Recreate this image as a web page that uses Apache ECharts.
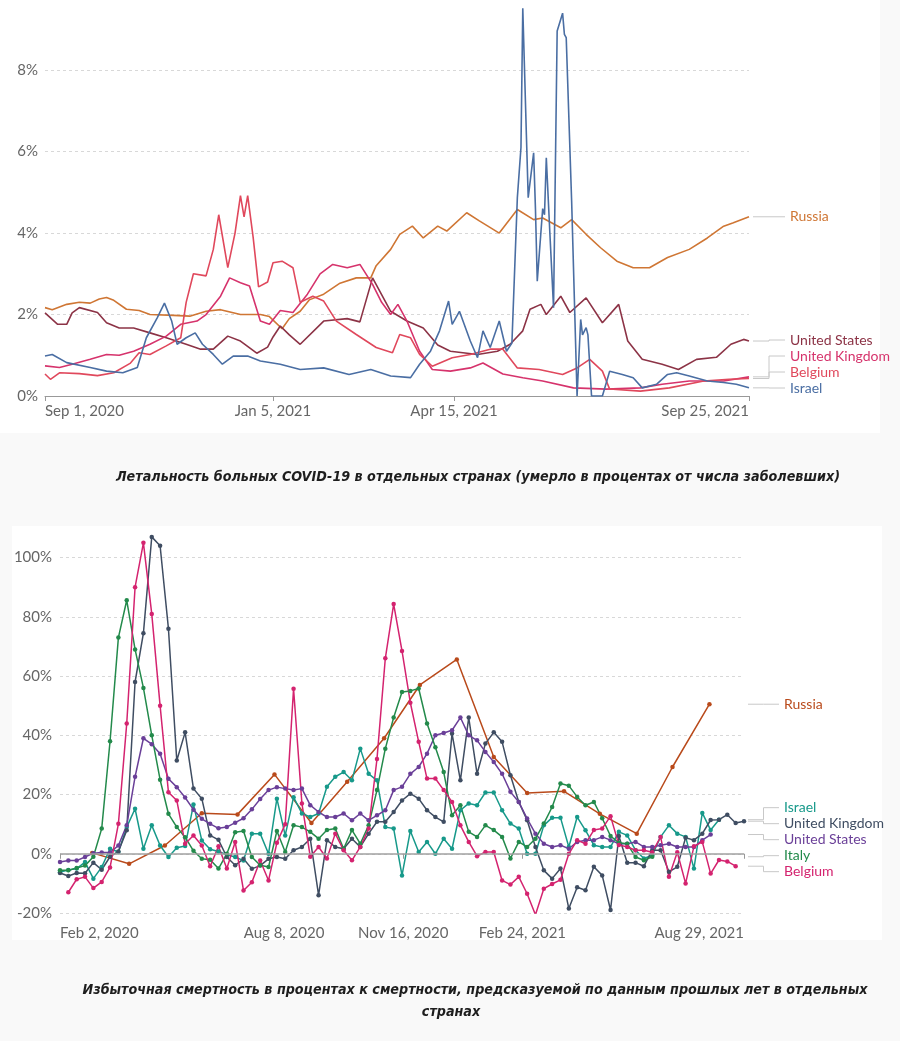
<!DOCTYPE html>
<html><head><meta charset="utf-8">
<script src="https://cdn.jsdelivr.net/npm/echarts@6/dist/echarts.min.js"></script>
<style>
html,body{margin:0;padding:0;background:#f9f9f9;width:900px;height:1041px;overflow:hidden;}
#p1{position:absolute;left:0;top:0;width:880px;height:433px;background:#fff;}
#p2{position:absolute;left:12px;top:526px;width:870px;height:414px;background:#fff;}
#chart{position:absolute;left:0;top:0;width:900px;height:1041px;}
</style></head><body>
<div id="p1"></div><div id="p2"></div><div id="chart"></div>
<script>
// ---------- Top chart: case fatality rate (%) ----------
const topTicks = ['2020-09-01','2021-01-05','2021-04-15','2021-09-25'];
const cfrRussia = [['2020-09-01',2.17],['2020-09-05',2.12],['2020-09-13',2.25],['2020-09-20',2.3],['2020-09-26',2.28],['2020-10-01',2.38],['2020-10-05',2.42],['2020-10-09',2.35],['2020-10-16',2.13],['2020-10-23',2.1],['2020-10-29',2.0],['2020-11-11',1.98],['2020-11-20',1.96],['2020-11-29',2.08],['2020-12-07',2.12],['2020-12-18',2.0],['2020-12-29',2.0],['2021-01-03',1.95],['2021-01-10',1.65],['2021-01-14',1.9],['2021-01-20',2.08],['2021-01-25',2.36],['2021-02-02',2.5],['2021-02-11',2.77],['2021-02-20',2.9],['2021-02-28',2.9],['2021-03-03',3.2],['2021-03-11',3.6],['2021-03-16',3.97],['2021-03-23',4.17],['2021-03-29',3.88],['2021-04-06',4.17],['2021-04-11',4.05],['2021-04-22',4.5],['2021-04-29',4.3],['2021-05-10',4.0],['2021-05-20',4.58],['2021-05-29',4.33],['2021-06-03',4.37],['2021-06-13',4.13],['2021-06-19',4.33],['2021-06-27',3.97],['2021-07-05',3.64],['2021-07-14',3.31],['2021-07-23',3.15],['2021-08-01',3.15],['2021-08-11',3.4],['2021-08-23',3.6],['2021-09-02',3.88],['2021-09-11',4.17],['2021-09-16',4.25],['2021-09-25',4.4]];
const cfrUS = [['2020-09-01',2.04],['2020-09-08',1.76],['2020-09-13',1.76],['2020-09-16',2.04],['2020-09-20',2.17],['2020-09-30',2.05],['2020-10-05',1.8],['2020-10-12',1.67],['2020-10-20',1.67],['2020-10-29',1.55],['2020-11-07',1.43],['2020-11-18',1.27],['2020-11-26',1.15],['2020-12-03',1.15],['2020-12-11',1.47],['2020-12-18',1.35],['2020-12-27',1.05],['2021-01-02',1.2],['2021-01-05',1.45],['2021-01-09',1.72],['2021-01-14',1.5],['2021-01-20',1.27],['2021-02-02',1.84],['2021-02-15',1.9],['2021-02-22',1.82],['2021-03-01',2.9],['2021-03-11',2.08],['2021-03-20',1.84],['2021-03-29',1.67],['2021-04-06',1.25],['2021-04-13',1.1],['2021-04-28',1.02],['2021-05-09',1.1],['2021-05-16',1.27],['2021-05-23',1.6],['2021-05-27',2.13],['2021-06-02',2.25],['2021-06-05',2.0],['2021-06-13',2.45],['2021-06-18',2.05],['2021-06-27',2.41],['2021-07-06',1.8],['2021-07-15',2.25],['2021-07-20',1.35],['2021-07-28',0.9],['2021-08-08',0.78],['2021-08-17',0.65],['2021-08-27',0.9],['2021-09-07',0.95],['2021-09-15',1.27],['2021-09-22',1.39],['2021-09-25',1.35]];
const cfrUK = [['2020-09-01',0.74],['2020-09-09',0.7],['2020-09-16',0.78],['2020-09-26',0.9],['2020-10-05',1.02],['2020-10-12',1.0],['2020-10-20',1.1],['2020-10-29',1.27],['2020-11-07',1.47],['2020-11-15',1.76],['2020-11-24',1.84],['2020-11-29',2.0],['2020-12-07',2.45],['2020-12-12',2.9],['2020-12-18',2.78],['2020-12-23',2.7],['2020-12-29',1.84],['2021-01-03',1.76],['2021-01-09',2.1],['2021-01-16',2.05],['2021-01-24',2.5],['2021-01-31',3.0],['2021-02-07',3.23],['2021-02-15',3.15],['2021-02-22',3.23],['2021-03-01',2.74],['2021-03-06',2.3],['2021-03-11',2.0],['2021-03-15',2.25],['2021-03-20',1.84],['2021-03-27',1.1],['2021-04-03',0.65],['2021-04-13',0.61],['2021-04-24',0.69],['2021-05-01',0.81],['2021-05-12',0.54],['2021-05-23',0.45],['2021-06-03',0.37],['2021-06-20',0.2],['2021-07-08',0.17],['2021-07-27',0.2],['2021-08-08',0.29],['2021-08-23',0.37],['2021-09-11',0.37],['2021-09-25',0.47]];
const cfrBelgium = [['2020-09-01',0.54],['2020-09-04',0.41],['2020-09-09',0.57],['2020-09-20',0.55],['2020-09-30',0.5],['2020-10-09',0.57],['2020-10-18',0.8],['2020-10-23',1.06],['2020-10-29',1.02],['2020-11-07',1.23],['2020-11-15',1.43],['2020-11-18',2.3],['2020-11-22',3.0],['2020-11-29',2.95],['2020-12-03',3.6],['2020-12-06',4.45],['2020-12-11',3.15],['2020-12-15',4.0],['2020-12-18',4.92],['2020-12-20',4.4],['2020-12-22',4.92],['2020-12-25',3.9],['2020-12-28',2.68],['2021-01-02',2.8],['2021-01-05',3.27],['2021-01-10',3.31],['2021-01-16',3.15],['2021-01-20',2.3],['2021-01-27',2.45],['2021-02-02',2.33],['2021-02-09',1.84],['2021-02-20',1.51],['2021-03-03',1.19],['2021-03-12',1.06],['2021-03-16',1.51],['2021-03-22',1.43],['2021-03-27',1.02],['2021-04-03',0.73],['2021-04-14',0.94],['2021-04-24',1.02],['2021-05-05',1.15],['2021-05-12',1.15],['2021-05-20',0.69],['2021-06-01',0.65],['2021-06-14',0.53],['2021-06-22',0.69],['2021-06-29',0.9],['2021-07-06',0.61],['2021-07-10',0.17],['2021-07-27',0.12],['2021-08-12',0.2],['2021-08-31',0.37],['2021-09-14',0.41],['2021-09-25',0.43]];
const cfrIsrael = [['2020-09-01',0.98],['2020-09-05',1.02],['2020-09-13',0.82],['2020-09-26',0.7],['2020-10-05',0.61],['2020-10-14',0.57],['2020-10-22',0.7],['2020-10-27',1.43],['2020-11-02',1.92],['2020-11-06',2.28],['2020-11-10',1.84],['2020-11-13',1.27],['2020-11-18',1.43],['2020-11-23',1.55],['2020-11-27',1.27],['2020-12-03',1.02],['2020-12-08',0.78],['2020-12-14',0.98],['2020-12-22',0.98],['2020-12-29',0.86],['2021-01-09',0.78],['2021-01-20',0.65],['2021-02-02',0.69],['2021-02-16',0.53],['2021-02-28',0.65],['2021-03-11',0.49],['2021-03-22',0.45],['2021-03-27',0.78],['2021-04-02',1.1],['2021-04-07',1.6],['2021-04-12',2.33],['2021-04-14',1.76],['2021-04-18',2.08],['2021-04-24',1.35],['2021-04-28',0.94],['2021-05-01',1.6],['2021-05-05',1.19],['2021-05-10',1.84],['2021-05-14',1.1],['2021-05-17',1.3],['2021-05-20',4.87],['2021-05-22',6.1],['2021-05-23',9.52],['2021-05-25',6.4],['2021-05-26',4.87],['2021-05-29',5.97],['2021-05-30',4.6],['2021-05-31',2.82],['2021-06-03',4.6],['2021-06-04',4.45],['2021-06-05',5.85],['2021-06-07',3.97],['2021-06-09',2.17],['2021-06-11',8.96],['2021-06-14',9.4],['2021-06-15',8.88],['2021-06-16',8.8],['2021-06-19',4.78],['2021-06-22',0],['2021-06-24',1.88],['2021-06-25',1.5],['2021-06-27',1.68],['2021-06-28',1.5],['2021-06-30',0],['2021-07-06',0],['2021-07-10',0.61],['2021-07-17',0.53],['2021-07-23',0.45],['2021-07-28',0.2],['2021-08-05',0.29],['2021-08-11',0.53],['2021-08-16',0.57],['2021-08-23',0.49],['2021-09-02',0.37],['2021-09-11',0.33],['2021-09-18',0.29],['2021-09-25',0.2]];

// ---------- Bottom chart: excess mortality (%) ----------
const bottomTicks = ['2020-02-02','2020-08-08','2020-11-16','2021-02-24','2021-08-29'];
const exRussia = [['2020-02-29',0.3],['2020-03-31',-3.4],['2020-04-30',2.8],['2020-05-31',13.7],['2020-06-30',13.3],['2020-07-31',26.8],['2020-08-31',10.4],['2020-09-30',24.3],['2020-10-31',39],['2020-11-30',57],['2020-12-31',65.6],['2021-01-31',32.7],['2021-02-28',20.5],['2021-03-31',21.1],['2021-04-30',13.5],['2021-05-31',6.8],['2021-06-30',29.3],['2021-07-31',50.5]];
const exIsraelStart = '2020-02-02';
const exIsrael = [-6.2,-5.5,-5,-2.8,-8.4,-4.5,1.7,0.6,9,15.2, 1.7,9.6,2.8,-1.1,2,2.6,16.6,4.5,1.5,0.8, -0.3,-1.1,-2.3,6.8,6.8,0,18.6,6.2,19.1,13.6, 12.4,13.6,22.6,26,27.6,24.8,35.5,27,24.8,9, 8.5,-7.3,7.7,0.6,4,0,5.1,1.7,14.7,17, 16.4,20.7,20.7,14.7,10.2,8.5,0,0,9.6,12.2, 12.2,2.3,12.4,7.9,2.9,2.3,2.3,7.4,6.2,1.2, -1.6,-0.5,5.7,9.6,6.8,5.7,-5,13.8,8,11.5];
const exUKStart = '2020-02-02';
const exUK = [-6.5,-7.5,-6.5,-6.6,-3,-5.4,-1,0.8,7.9,58, 74.5,107,104,76,31.5,41,22,18.6,6.2,4.7, -1.1,-3.9,-1.7,-5.1,-4,-1.7,-1.1,-1.7,1.2,2.3, 5.1,-14,4.6,2.3,1.7,5.1,2.3,6.8,10.8,10.8, 14.1,18,20.3,18.6,14.7,12.4,10.8,40.6,24.8,46, 27,37.2,41,37.8,26.5,17.5,11.3,2.3,-5.6,-8.4, -5,-18.5,-11.3,-12.3,-4.4,-7.3,-19,6,-3,-3, -4.2,1.2,1.2,-6.1,-4.4,5.4,4.6,6.8,11.4,11.5, 13.2,10.4,11];
const exUSStart = '2020-02-02';
const exUS = [-2.8,-2.3,-2.3,-1.1,0.2,0.4,0.4,2.8,9.6,26, 39,37,33.8,25.3,22.5,19,14.9,11.8,10.1,8.6, 9,10.5,12,15,18.5,21.5,22.5,22,21.5,22, 16.4,14.1,12.4,12.4,13.6,11.3,13.6,11.3,13,14.7, 21.5,22.6,27,29.3,33.8,40,40.8,41.7,46,40, 38.3,34.4,31,27,20.9,17.5,11.9,6.8,3.4,2.3, 2.9,1.7,4,4.6,4.6,5.7,4.6,3.4,3.4,4, 2.3,2.3,2.9,3.4,2.3,2.3,2.3,4.6,6.5];
const exItalyStart = '2020-02-02';
const exItaly = [-5.6,-5.6,-4.8,-4,-1,8.5,38,73,85.6,69, 56,40,25,13.5,9,5.6,1,-1.7,-2,-5, 0,7.3,7.7,-1.1,-3.9,-4.5,7.7,0.6,9.6,9, 7.4,5.1,8,8.5,1.7,8,3.4,9.6,21.5,35.5, 46,54.6,55,55.8,44,36,27.6,13,16.4,7.4, 5.7,9.6,8,5.7,-1.6,4,2.3,5.1,10.2,15.8, 23.7,23,19.2,16.4,17.5,12,6,3.7,3.4,-1.1, -2.2,-1];
const exBelgiumStart = '2020-02-09';
const exBelgium = [-13,-8.6,-7.8,-11.6,-9.5,-4.6,10.1,44,90,105, 81,50,20.8,18,3.4,6.2,2.8,-4.2,2.5,-5, 4,-12.4,-9.6,-2.3,-9,3.7,10,55.7,17,-1, 2.3,-1.6,6.8,1.2,-2.2,2.3,8.5,32,66,84.3, 68.5,51,37.8,25.4,25.4,21.5,17.5,9.6,4,-0.8, 0.6,0.6,-9,-10.4,-7.8,-13.5,-20.6,-11.8,-10.2,-8.8, 0,4.6,3.4,8,8.5,12.7,3,2.3,1.2,1.2, 0.5,5.7,-7.8,0.5,-10,2.5,4,-6.7,-2.1,-2.6,-4.2];

const caption1 = 'Летальность больных COVID-19 в отдельных странах (умерло в процентах от числа заболевших)';
const caption2 = ['Избыточная смертность в процентах к смертности, предсказуемой по данным прошлых лет в отдельных', 'странах'];

// ---------- helpers ----------
const parse = s => +echarts.time.parse(s);
const DAY = 86400000;
const MONTHS = ['Jan','Feb','Mar','Apr','May','Jun','Jul','Aug','Sep','Oct','Nov','Dec'];
const fmtDate = v => { const d = new Date(Math.round(v)); return MONTHS[d.getMonth()] + ' ' + d.getDate() + ', ' + d.getFullYear(); };
const pairs = arr => arr.map(p => [parse(p[0]), p[1]]);
const weekly = (start, vals) => { const t0 = parse(start); return vals.map((v, k) => [t0 + 7 * k * DAY, v]); };

const FONT = 'Lato, "Noto Sans", sans-serif';
const AXIS_TXT = '#666';

const topDefs = [
  {name: 'Russia', pts: pairs(cfrRussia), color: '#cf7634'},
  {name: 'United States', pts: pairs(cfrUS), color: '#8c3346'},
  {name: 'United Kingdom', pts: pairs(cfrUK), color: '#d6336c'},
  {name: 'Belgium', pts: pairs(cfrBelgium), color: '#e0485c'},
  {name: 'Israel', pts: pairs(cfrIsrael), color: '#4a6ea3'}
];
const botDefs = [
  {name: 'Russia', pts: pairs(exRussia), color: '#b94a1b'},
  {name: 'Israel', pts: weekly(exIsraelStart, exIsrael), color: '#17998a'},
  {name: 'United Kingdom', pts: weekly(exUKStart, exUK), color: '#3f4d62'},
  {name: 'United States', pts: weekly(exUSStart, exUS), color: '#6a3f98'},
  {name: 'Italy', pts: weekly(exItalyStart, exItaly), color: '#238a4b'},
  {name: 'Belgium', pts: weekly(exBelgiumStart, exBelgium), color: '#d4236f'}
];

function xAxisCfg(grid, ticks, labelMargin, showLine) {
  const vals = ticks.map(parse);
  return {
    type: 'value', gridIndex: grid, min: vals[0], max: vals[vals.length - 1], scale: true,
    axisLine: {show: showLine, lineStyle: {color: '#999', width: 1}},
    axisTick: {show: true, customValues: vals, length: 5, lineStyle: {color: '#999'}},
    axisLabel: {customValues: vals, formatter: fmtDate, color: AXIS_TXT, fontSize: 15, fontFamily: FONT,
      margin: labelMargin, alignMinLabel: 'left', alignMaxLabel: 'right', showMinLabel: true, showMaxLabel: true},
    splitLine: {show: false}
  };
}
function yAxisCfg(grid, min, max, interval, showMinLine, margin) {
  return {
    type: 'value', gridIndex: grid, min: min, max: max, interval: interval,
    axisLine: {show: false}, axisTick: {show: false},
    axisLabel: {formatter: v => v + '%', color: AXIS_TXT, fontSize: 15, fontFamily: FONT, showMaxLabel: false, margin: margin},
    splitLine: {show: true, showMinLine: showMinLine, showMaxLine: false, lineStyle: {color: '#d8d8d8', type: [3, 3], width: 1}}
  };
}

const series = [];
topDefs.forEach(s => series.push({
  type: 'line', name: s.name, xAxisIndex: 0, yAxisIndex: 0, data: s.pts, showSymbol: false,
  lineStyle: {color: s.color, width: 1.6}, itemStyle: {color: s.color}, emphasis: {disabled: true}, silent: true
}));
botDefs.forEach((s, i) => {
  const o = {
    type: 'line', name: s.name + ' ', xAxisIndex: 1, yAxisIndex: 1, data: s.pts, showSymbol: true, showAllSymbol: true,
    symbol: 'circle', symbolSize: 4.5, lineStyle: {color: s.color, width: 1.5}, itemStyle: {color: s.color},
    emphasis: {disabled: true}, silent: true
  };
  if (i === 0) {
    o.markLine = {silent: true, symbol: ['none', 'none'], label: {show: false},
      lineStyle: {color: '#a0a0a0', type: 'solid', width: 1.5}, data: [{yAxis: 0}]};
  }
  series.push(o);
});

const chart = echarts.init(document.getElementById('chart'), null, {renderer: 'canvas'});
const option = {
  animation: false,
  backgroundColor: 'transparent',
  grid: [
    {left: 45, top: 5, width: 704, height: 391},
    {left: 60, top: 528, width: 684, height: 385}
  ],
  xAxis: [xAxisCfg(0, topTicks, 8, true), xAxisCfg(1, bottomTicks, 13, false)],
  yAxis: [yAxisCfg(0, 0, 9.6, 2, false, 7), yAxisCfg(1, -20, 110, 20, true, 8)],
  series: series
};
chart.setOption(option);

// ---------- right-hand labels with leader lines ----------
function endLabels(defs, gridIndex, labelX, gap, maxBelowGrid) {
  const xMaxPx = chart.convertToPixel({gridIndex: gridIndex}, [option.xAxis[gridIndex].max, 0])[0];
  const yBottomPx = chart.convertToPixel({gridIndex: gridIndex}, [option.xAxis[gridIndex].max, option.yAxis[gridIndex].min])[1];
  const maxY = yBottomPx - maxBelowGrid;
  const items = defs.map(s => {
    const last = s.pts[s.pts.length - 1];
    const p = chart.convertToPixel({gridIndex: gridIndex}, last);
    return {name: s.name, color: s.color, y0: p[1]};
  }).sort((a, b) => a.y0 - b.y0);
  let groups = items.map(it => ({members: [it], top: it.y0}));
  let changed = true;
  while (changed) {
    changed = false;
    for (let i = 0; i < groups.length - 1; i++) {
      const g = groups[i], h = groups[i + 1];
      const gBottom = g.top + (g.members.length - 1) * gap;
      if (h.top - gBottom < gap) {
        const members = g.members.concat(h.members);
        const mean = members.reduce((s, m) => s + m.y0, 0) / members.length;
        groups.splice(i, 2, {members: members, top: mean - (members.length - 1) * gap / 2});
        changed = true; break;
      }
    }
  }
  const flat = [];
  groups.forEach(g => g.members.forEach((m, k) => { m.y = g.top + k * gap; flat.push(m); }));
  for (let i = flat.length - 1; i >= 0; i--) {
    const lim = i === flat.length - 1 ? maxY : flat[i + 1].y - gap;
    if (flat[i].y > lim) flat[i].y = lim;
  }
  const els = [];
  const x0 = xMaxPx + 4, x3 = labelX - 5, xe = (x0 + x3) / 2;
  flat.forEach(m => {
    const y = m.y;
    els.push({type: 'polyline', silent: true, z: 10,
      shape: {points: [[x0, m.y0], [xe, m.y0], [xe, y], [x3, y]]},
      style: {stroke: '#c8c8c8', lineWidth: 1, fill: null}});
    els.push({type: 'text', silent: true, z: 10, x: labelX, y: y,
      style: {text: m.name, fill: m.color, font: '14px ' + FONT, align: 'left', verticalAlign: 'middle',
        textAlign: 'left', textVerticalAlign: 'middle'}});
  });
  return els;
}

const CAP_FONT = 'italic bold 14.2px "DejaVu Sans Condensed", "Liberation Sans Narrow", "Noto Sans", sans-serif';
const graphics = []
  .concat(endLabels(topDefs, 0, 790, 16, 8))
  .concat(endLabels(botDefs, 1, 784, 16, 8))
  .concat([
    {type: 'text', silent: true, x: 478, y: 477, style: {text: caption1, fill: '#1e1e1e', font: CAP_FONT, align: 'center', verticalAlign: 'middle', textAlign: 'center', textVerticalAlign: 'middle'}},
    {type: 'text', silent: true, x: 475, y: 990, style: {text: caption2[0], fill: '#1e1e1e', font: CAP_FONT, align: 'center', verticalAlign: 'middle', textAlign: 'center', textVerticalAlign: 'middle'}},
    {type: 'text', silent: true, x: 451, y: 1012, style: {text: caption2[1], fill: '#1e1e1e', font: CAP_FONT, align: 'center', verticalAlign: 'middle', textAlign: 'center', textVerticalAlign: 'middle'}}
  ]);
chart.setOption({graphic: graphics});
</script></body></html>
